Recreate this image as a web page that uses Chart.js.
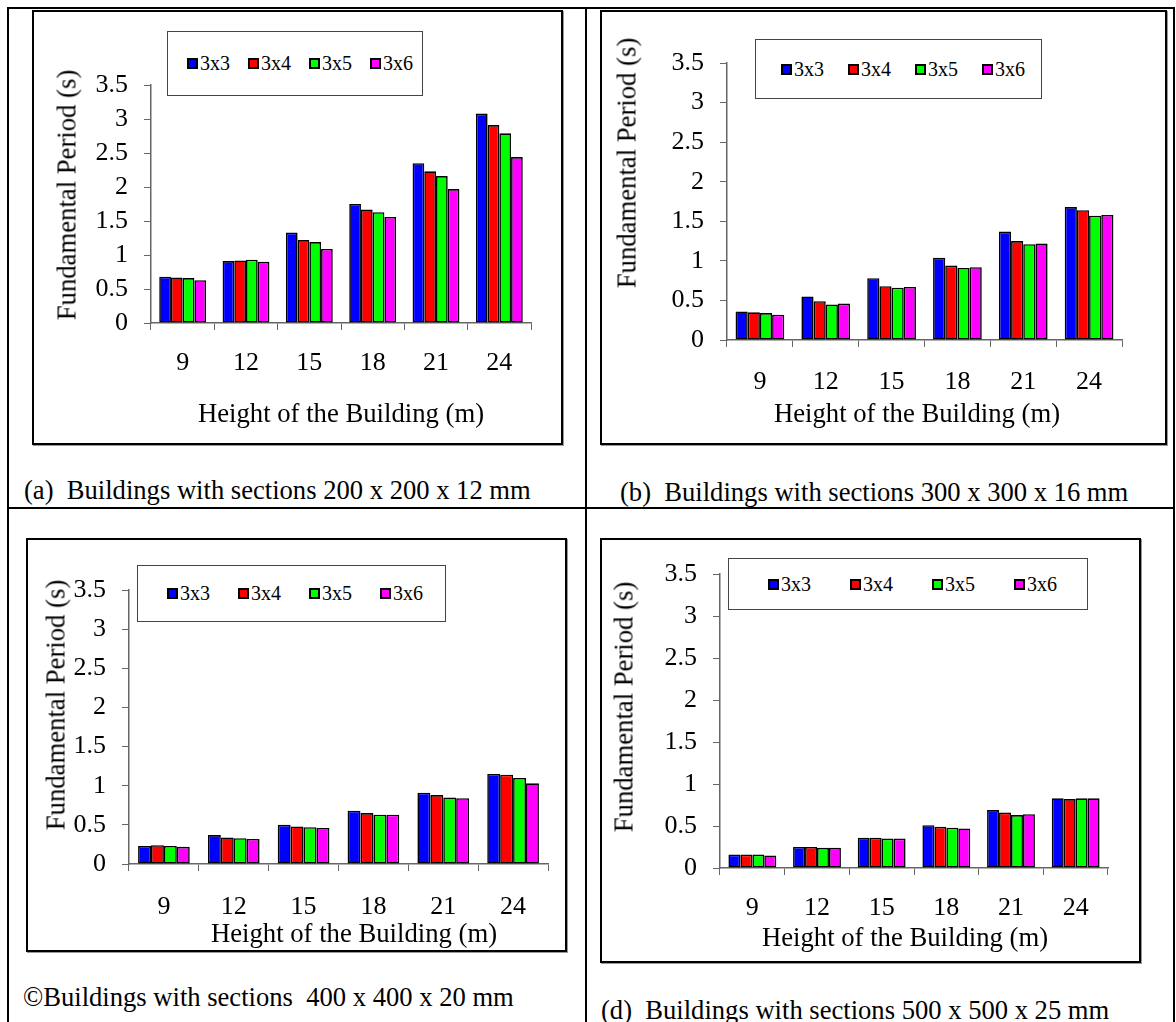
<!DOCTYPE html>
<html>
<head>
<meta charset="utf-8">
<script src="https://cdn.jsdelivr.net/npm/chart.js@4.4.1/dist/chart.umd.min.js"></script>
<style>
  html, body { margin: 0; padding: 0; background: #fff; }
  body { width: 1176px; height: 1022px; position: relative; overflow: hidden;
         font-family: 'Liberation Serif', 'Times New Roman', serif; color: #000; }
  .abs { position: absolute; }
  .line { position: absolute; background: #000; }
  .box { position: absolute; border: 2px solid #000; box-sizing: border-box;
         box-shadow: 1px 1px 0 #999; pointer-events: none; }
  .legend { position: absolute; border: 1px solid #444; box-sizing: border-box; background: #fff; }
  .item { position: absolute; top: 0; bottom: 0; display: flex; align-items: center; font-size: 20px; white-space: nowrap; }
  .sw { width: 11px; height: 11px; border: 2px solid #000; box-sizing: border-box; margin-right: 2px; }
  .ytitle { position: absolute; font-size: 26.7px; white-space: nowrap; transform: translate(-50%, -50%) rotate(-90deg); }
  .xtitle { position: absolute; font-size: 26.7px; white-space: nowrap; transform: translate(-50%, -50%); }
  .caption { position: absolute; font-size: 26.6px; white-space: pre; transform: translateY(-50%); }
</style>
</head>
<body>
<script>
// categories and series
const heights = ['9', '12', '15', '18', '21', '24'];
const seriesNames = ['3x3', '3x4', '3x5', '3x6'];
const seriesColors = ['#0000FF', '#FF0000', '#00FF00', '#FF00FF'];

// y axis
const yMin = 0, yMax = 3.5, yStep = 0.5;
const yTitle = 'Fundamental Period (s)';
const xTitle = 'Height of the Building (m)';

// (a) 200 x 200 x 12
const a3x3 = [0.68, 0.91, 1.33, 1.75, 2.35, 3.08];
const a3x4 = [0.67, 0.92, 1.22, 1.67, 2.23, 2.91];
const a3x5 = [0.66, 0.93, 1.19, 1.63, 2.16, 2.79];
const a3x6 = [0.63, 0.90, 1.09, 1.56, 1.97, 2.44];
// (b) 300 x 300 x 16
const b3x3 = [0.36, 0.55, 0.78, 1.04, 1.37, 1.68];
const b3x4 = [0.35, 0.49, 0.68, 0.94, 1.25, 1.64];
const b3x5 = [0.34, 0.45, 0.66, 0.91, 1.21, 1.57];
const b3x6 = [0.32, 0.46, 0.67, 0.92, 1.22, 1.58];
// (c) 400 x 400 x 20
const c3x3 = [0.23, 0.37, 0.50, 0.68, 0.91, 1.15];
const c3x4 = [0.24, 0.34, 0.48, 0.65, 0.88, 1.14];
const c3x5 = [0.23, 0.33, 0.47, 0.63, 0.85, 1.10];
const c3x6 = [0.22, 0.32, 0.46, 0.63, 0.84, 1.03];
// (d) 500 x 500 x 25
const d3x3 = [0.16, 0.25, 0.36, 0.51, 0.69, 0.83];
const d3x4 = [0.16, 0.25, 0.36, 0.49, 0.66, 0.82];
const d3x5 = [0.16, 0.24, 0.35, 0.48, 0.63, 0.83];
const d3x6 = [0.15, 0.24, 0.35, 0.47, 0.64, 0.83];

const captions = [
  '(a)  Buildings with sections 200 x 200 x 12 mm',
  '(b)  Buildings with sections 300 x 300 x 16 mm',
  '\u00A9Buildings with sections  400 x 400 x 20 mm',
  '(d)  Buildings with sections 500 x 500 x 25 mm'
];

// page layout (px): box = [left, top, right, bottom], plot = [axisX, yTop, xEnd, yZero]
const layout = [
  { data: [a3x3, a3x4, a3x5, a3x6], box: [32, 10, 563, 445], plot: [151, 85, 531, 323], tickPad: 18,
    legend: [167, 31, 423, 96], legX0: 19, legStep: 61, yT: [67, 195], xT: [341, 413], cap: [24, 490] },
  { data: [b3x3, b3x4, b3x5, b3x6], box: [600, 10, 1167, 445], plot: [727, 63, 1122, 340], tickPad: 20,
    legend: [755, 39, 1042, 99], legX0: 25, legStep: 67, yT: [627, 163], xT: [917, 413], cap: [620, 492] },
  { data: [c3x3, c3x4, c3x5, c3x6], box: [26, 538, 567, 952], plot: [129, 590, 548, 864], tickPad: 21,
    legend: [137, 565, 446, 622], legX0: 29, legStep: 71, yT: [56, 705], xT: [354, 933], cap: [23, 997] },
  { data: [d3x3, d3x4, d3x5, d3x6], box: [600, 538, 1141, 963], plot: [720, 574, 1108, 868], tickPad: 18,
    legend: [728, 558, 1088, 610], legX0: 39, legStep: 82, yT: [624, 707], xT: [905, 937], cap: [601, 1010] }
];

function el(cls, css, text) {
  const d = document.createElement('div');
  d.className = cls;
  Object.assign(d.style, css);
  if (text !== undefined) d.textContent = text;
  document.body.appendChild(d);
  return d;
}

// table grid
el('line', { left: '7px', top: '7px', width: '1168px', height: '2px' });
el('line', { left: '7px', top: '7px', width: '2px', height: '1020px' });
el('line', { left: '1173px', top: '7px', width: '2px', height: '1020px' });
el('line', { left: '585px', top: '7px', width: '2px', height: '1020px' });
el('line', { left: '7px', top: '507px', width: '1168px', height: '2px' });

Chart.defaults.font.family = "'Liberation Serif', 'Times New Roman', serif";
Chart.defaults.color = '#000';

layout.forEach((p, idx) => {
  const [L, T, R, B] = p.box;
  const [ax, yTop, xEnd, y0] = p.plot;

  const canvas = document.createElement('canvas');
  canvas.width = R - L;
  canvas.height = B - T;
  canvas.className = 'abs';
  canvas.style.left = L + 'px';
  canvas.style.top = T + 'px';
  document.body.appendChild(canvas);

  new Chart(canvas.getContext('2d'), {
    type: 'bar',
    data: {
      labels: heights,
      datasets: seriesNames.map((name, i) => ({
        label: name,
        data: p.data[i],
        backgroundColor: seriesColors[i],
        borderColor: '#000',
        borderWidth: 1.6,
        borderSkipped: false,
        categoryPercentage: 0.74,
        barPercentage: 1.0
      }))
    },
    options: {
      responsive: false,
      animation: false,
      devicePixelRatio: 1,
      layout: { padding: { left: 0, top: yTop - T, right: R - xEnd, bottom: 0 } },
      plugins: { legend: { display: false }, tooltip: { enabled: false } },
      scales: {
        x: {
          grid: { offset: true, drawOnChartArea: false, drawTicks: true, tickLength: 7, color: '#666', lineWidth: 1 },
          border: { color: '#666', width: 1.5 },
          ticks: { font: { size: 26 }, padding: p.tickPad, maxRotation: 0, autoSkip: false },
          afterFit: s => { s.height = B - y0; }
        },
        y: {
          min: yMin, max: yMax,
          grid: { drawOnChartArea: false, drawTicks: true, tickLength: 7, color: '#666', lineWidth: 1 },
          border: { color: '#666', width: 1.5 },
          ticks: { stepSize: yStep, font: { size: 26 }, padding: 16, autoSkip: false, callback: v => String(v) },
          afterFit: s => { s.width = ax - L; }
        }
      }
    }
  });

  el('box', { left: L + 'px', top: T + 'px', width: (R - L) + 'px', height: (B - T) + 'px' });

  // legend
  const [lL, lT, lR, lB] = p.legend;
  const lg = el('legend', { left: lL + 'px', top: lT + 'px', width: (lR - lL) + 'px', height: (lB - lT) + 'px' });
  seriesNames.forEach((name, i) => {
    const it = document.createElement('div');
    it.className = 'item';
    it.style.left = (p.legX0 + i * p.legStep) + 'px';
    const sw = document.createElement('span');
    sw.className = 'sw';
    sw.style.background = seriesColors[i];
    it.appendChild(sw);
    it.appendChild(document.createTextNode(name));
    lg.appendChild(it);
  });

  el('ytitle', { left: p.yT[0] + 'px', top: p.yT[1] + 'px' }, yTitle);
  el('xtitle', { left: p.xT[0] + 'px', top: p.xT[1] + 'px' }, xTitle);
  el('caption', { left: p.cap[0] + 'px', top: p.cap[1] + 'px' }, captions[idx]);
});
</script>
</body>
</html>
